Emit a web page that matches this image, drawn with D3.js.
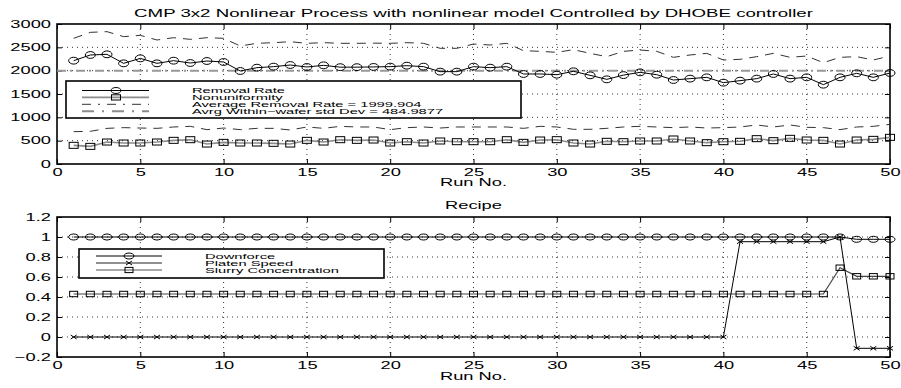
<!DOCTYPE html>
<html>
<head>
<meta charset="utf-8">
<script src="https://cdn.jsdelivr.net/npm/d3@7"></script>
<style>
  body { margin: 0; background: #fff; }
  text { font-family: "Liberation Sans", Arial, Helvetica, sans-serif; fill: #000; }
</style>
</head>
<body>
<script>
var runs = [1, 2, 3, 4, 5, 6, 7, 8, 9, 10, 11, 12, 13, 14, 15, 16, 17, 18, 19, 20,
  21, 22, 23, 24, 25, 26, 27, 28, 29, 30, 31, 32, 33, 34, 35, 36, 37, 38, 39, 40,
  41, 42, 43, 44, 45, 46, 47, 48, 49, 50];

var removalRate = [2214, 2336, 2350, 2157, 2264, 2157, 2214, 2164, 2207, 2186,
  1993, 2064, 2086, 2121, 2079, 2114, 2075, 2075, 2080, 2086,
  2107, 2086, 1979, 1979, 2086, 2064, 2086, 1929, 1929, 1914,
  1986, 1900, 1814, 1905, 1964, 1914, 1800, 1829, 1857, 1743,
  1786, 1829, 1929, 1829, 1857, 1700, 1857, 1943, 1857, 1950];

var nonuniformity = [400, 378, 471, 450, 450, 471, 507, 521, 428, 464,
  450, 450, 443, 428, 507, 471, 521, 507, 514, 450,
  478, 450, 493, 478, 478, 478, 521, 464, 514, 521,
  450, 428, 486, 478, 493, 493, 536, 493, 457, 478,
  486, 543, 500, 550, 514, 507, 428, 514, 528, 571];

var upperBand = [2693, 2821, 2836, 2729, 2757, 2657, 2707, 2671, 2707, 2693,
  2529, 2586, 2600, 2621, 2586, 2600, 2586, 2586, 2590, 2586,
  2600, 2586, 2479, 2479, 2571, 2550, 2586, 2429, 2414, 2393,
  2450, 2371, 2300, 2414, 2443, 2414, 2286, 2336, 2371, 2229,
  2243, 2300, 2371, 2286, 2314, 2171, 2286, 2300, 2229, 2314];

var lowerBand = [693, 700, 764, 779, 771, 764, 793, 807, 736, 771,
  736, 764, 764, 729, 793, 764, 807, 793, 793, 736,
  779, 793, 771, 793, 793, 793, 793, 764, 807, 793,
  743, 743, 764, 793, 807, 793, 779, 793, 771, 779,
  793, 836, 793, 836, 786, 779, 736, 793, 807, 850];

var avgRemovalRate = 1999.904;
var avgStdDev = 484.9877;

var downforce = [1, 1, 1, 1, 1, 1, 1, 1, 1, 1, 1, 1, 1, 1, 1, 1, 1, 1, 1, 1,
  1, 1, 1, 1, 1, 1, 1, 1, 1, 1, 1, 1, 1, 1, 1, 1, 1, 1, 1, 1,
  1, 1, 1, 1, 1, 1, 1.0, 0.977, 0.977, 0.977];

var platenSpeed = [0, 0, 0, 0, 0, 0, 0, 0, 0, 0, 0, 0, 0, 0, 0, 0, 0, 0, 0, 0,
  0, 0, 0, 0, 0, 0, 0, 0, 0, 0, 0, 0, 0, 0, 0, 0, 0, 0, 0, 0,
  0.953, 0.953, 0.953, 0.953, 0.953, 0.953, 1.0, -0.113, -0.113, -0.113];

var slurry = [0.43, 0.43, 0.43, 0.43, 0.43, 0.43, 0.43, 0.43, 0.43, 0.43,
  0.43, 0.43, 0.43, 0.43, 0.43, 0.43, 0.43, 0.43, 0.43, 0.43,
  0.43, 0.43, 0.43, 0.43, 0.43, 0.43, 0.43, 0.43, 0.43, 0.43,
  0.43, 0.43, 0.43, 0.43, 0.43, 0.43, 0.43, 0.43, 0.43, 0.43,
  0.43, 0.43, 0.43, 0.43, 0.43, 0.43, 0.693, 0.607, 0.607, 0.607];

var xTicks = [0, 5, 10, 15, 20, 25, 30, 35, 40, 45, 50];
var topYTicks = [0, 500, 1000, 1500, 2000, 2500, 3000];
var botYTicks = [-0.2, 0, 0.2, 0.4, 0.6, 0.8, 1, 1.2];

var topLegend = ['Removal Rate', 'Nonuniformity',
  'Average Removal Rate = ' + avgRemovalRate,
  'Avrg Within\u2212wafer std Dev = ' + avgStdDev];
var botLegend = ['Downforce', 'Platen Speed', 'Slurry Concentration'];

var width = 901, height = 388;
var SX = 1.83;      // glyphs in the picture are stretched sideways
var FS = 10;
var LFS = 7, LSX = 2.1;   // legend text

var svg = d3.select('body').append('svg')
  .attr('width', width)
  .attr('height', height);

function label(g, x, y, str, size, sx, anchor) {
  return g.append('text')
    .attr('transform', 'translate(' + x + ',' + y + ') scale(' + sx + ',1)')
    .attr('text-anchor', anchor || 'middle')
    .style('font-size', size + 'px')
    .text(str);
}

function panel(box, yDomain, yTicks, yFmt) {
  var x = d3.scaleLinear().domain([0, 50]).range([box.left, box.right]);
  var y = d3.scaleLinear().domain(yDomain).range([box.bottom, box.top]);
  var g = svg.append('g');

  // dotted grid
  g.selectAll('.vgrid').data(xTicks.slice(1, -1)).enter().append('line')
    .attr('x1', function(d) { return x(d); }).attr('x2', function(d) { return x(d); })
    .attr('y1', box.top).attr('y2', box.bottom)
    .attr('stroke', '#000').attr('stroke-width', 0.8).attr('stroke-dasharray', '1,4');
  g.selectAll('.hgrid').data(yTicks.slice(1, -1)).enter().append('line')
    .attr('x1', box.left).attr('x2', box.right)
    .attr('y1', function(d) { return y(d); }).attr('y2', function(d) { return y(d); })
    .attr('stroke', '#000').attr('stroke-width', 0.8).attr('stroke-dasharray', '1,4');

  var xAxis = d3.axisBottom(x).tickValues(xTicks).tickSizeInner(-5).tickSizeOuter(0).tickPadding(5);
  var yAxis = d3.axisLeft(y).tickValues(yTicks).tickSizeInner(-5).tickSizeOuter(0).tickPadding(6)
    .tickFormat(yFmt);
  var xTop = d3.axisTop(x).tickValues(xTicks).tickSizeInner(-5).tickSizeOuter(0).tickFormat('');
  var yRight = d3.axisRight(y).tickValues(yTicks).tickSizeInner(-5).tickSizeOuter(0).tickFormat('');

  var gx = g.append('g').attr('transform', 'translate(0,' + box.bottom + ')').call(xAxis);
  var gy = g.append('g').attr('transform', 'translate(' + box.left + ',0)').call(yAxis);
  g.append('g').attr('transform', 'translate(0,' + box.top + ')').call(xTop);
  g.append('g').attr('transform', 'translate(' + box.right + ',0)').call(yRight);
  g.selectAll('.domain').remove();
  g.selectAll('.tick line').attr('stroke', '#000').attr('stroke-width', 1);

  gx.selectAll('text').attr('transform', 'scale(' + SX + ',1)')
    .style('font-size', FS + 'px');
  gy.selectAll('text').attr('x', -6 / SX).attr('transform', 'scale(' + SX + ',1)')
    .style('font-size', FS + 'px');
  g.selectAll('.tick text').attr('fill', '#000');
  g.selectAll('g').attr('font-family', null).attr('font-size', null);

  g.append('rect')
    .attr('x', box.left).attr('y', box.top)
    .attr('width', box.right - box.left).attr('height', box.bottom - box.top)
    .attr('fill', 'none').attr('stroke', '#000').attr('stroke-width', 1.6);

  return { x: x, y: y, g: g };
}

function series(p, values, color, w, dash) {
  var line = d3.line()
    .x(function(d, i) { return p.x(runs[i]); })
    .y(function(d) { return p.y(d); });
  p.g.append('path')
    .datum(values)
    .attr('d', line)
    .attr('fill', 'none')
    .attr('stroke', color)
    .attr('stroke-width', w)
    .attr('stroke-dasharray', dash || null);
}

function marker(g, type, cx, cy, rx, ry) {
  if (type === 'o') {
    g.append('ellipse').attr('cx', cx).attr('cy', cy).attr('rx', rx).attr('ry', ry)
      .attr('fill', 'none').attr('stroke', '#000').attr('stroke-width', 1);
  } else if (type === 's') {
    g.append('rect').attr('x', cx - rx).attr('y', cy - ry)
      .attr('width', 2 * rx).attr('height', 2 * ry)
      .attr('fill', 'none').attr('stroke', '#000').attr('stroke-width', 1);
  } else {
    g.append('path')
      .attr('d', 'M' + (cx - rx) + ',' + (cy - ry) + 'L' + (cx + rx) + ',' + (cy + ry) +
        'M' + (cx - rx) + ',' + (cy + ry) + 'L' + (cx + rx) + ',' + (cy - ry))
      .attr('stroke', '#000').attr('stroke-width', 1);
  }
}

function markers(p, values, type, rx, ry) {
  values.forEach(function(v, i) {
    marker(p.g, type, p.x(runs[i]), p.y(v), rx, ry);
  });
}

// ---------- top panel ----------
var topP = panel({ left: 57, right: 890, top: 24, bottom: 164 }, [0, 3000], topYTicks, d3.format('d'));

series(topP, upperBand, '#333', 1, '9,7');
series(topP, lowerBand, '#333', 1, '9,7');
topP.g.append('line')
  .attr('x1', topP.x(0)).attr('x2', topP.x(50))
  .attr('y1', topP.y(avgRemovalRate)).attr('y2', topP.y(avgRemovalRate))
  .attr('stroke', '#999').attr('stroke-width', 2).attr('stroke-dasharray', '9,4,2,4');
series(topP, nonuniformity, '#8c8c8c', 1.6);
markers(topP, nonuniformity, 's', 4.5, 3);
series(topP, removalRate, '#000', 1);
markers(topP, removalRate, 'o', 5, 3.4);

label(svg, 473.5, 17, 'CMP 3x2 Nonlinear Process with nonlinear model Controlled by DHOBE controller', 10.2, SX);
label(svg, 473.5, 186, 'Run No.', FS, SX);

// top legend
var tl = svg.append('g');
tl.append('rect').attr('x', 66).attr('y', 81).attr('width', 455).attr('height', 37)
  .attr('fill', '#fff').attr('stroke', '#000').attr('stroke-width', 1.6);
var tlStyles = [
  { color: '#000', w: 1, dash: null, mk: 'o' },
  { color: '#8c8c8c', w: 1.6, dash: null, mk: 's' },
  { color: '#333', w: 1, dash: '9,7,2,7', mk: null },
  { color: '#8c8c8c', w: 2, dash: '12,8,2,8', mk: null }
];
topLegend.forEach(function(name, i) {
  var yy = 90.5 + i * 6.9;
  var s = tlStyles[i];
  tl.append('line').attr('x1', 82).attr('x2', 149).attr('y1', yy).attr('y2', yy)
    .attr('stroke', s.color).attr('stroke-width', s.w).attr('stroke-dasharray', s.dash);
  if (s.mk) marker(tl, s.mk, 116, yy, s.mk === 'o' ? 5 : 4.5, s.mk === 'o' ? 3 : 2.6);
  label(tl, 192, yy + 2.5, name, LFS, LSX, 'start');
});

// ---------- bottom panel ----------
var botP = panel({ left: 57, right: 890, top: 217, bottom: 357 }, [-0.2, 1.2], botYTicks, d3.format('.1~f'));

series(botP, slurry, '#444', 1.2);
markers(botP, slurry, 's', 4, 2.7);
series(botP, platenSpeed, '#000', 1);
markers(botP, platenSpeed, 'x', 3, 2);
series(botP, downforce, '#000', 1);
markers(botP, downforce, 'o', 5, 3);

label(svg, 473.5, 209, 'Recipe', FS, SX);
label(svg, 473.5, 380, 'Run No.', FS, SX);

// bottom legend
var bl = svg.append('g');
bl.append('rect').attr('x', 79).attr('y', 249).attr('width', 305).attr('height', 29)
  .attr('fill', '#fff').attr('stroke', '#000').attr('stroke-width', 1.6);
var blStyles = [
  { color: '#000', w: 1, mk: 'o' },
  { color: '#222', w: 1, mk: 'x' },
  { color: '#555', w: 1.2, mk: 's' }
];
botLegend.forEach(function(name, i) {
  var yy = 256 + i * 7;
  var s = blStyles[i];
  bl.append('line').attr('x1', 96).attr('x2', 162).attr('y1', yy).attr('y2', yy)
    .attr('stroke', s.color).attr('stroke-width', s.w);
  if (s.mk === 'o') marker(bl, 'o', 129, yy, 5, 3);
  else if (s.mk === 'x') marker(bl, 'x', 129, yy, 3, 2);
  else marker(bl, 's', 129, yy, 4, 2.6);
  label(bl, 205, yy + 2.5, name, LFS, LSX, 'start');
});
</script>
</body>
</html>
